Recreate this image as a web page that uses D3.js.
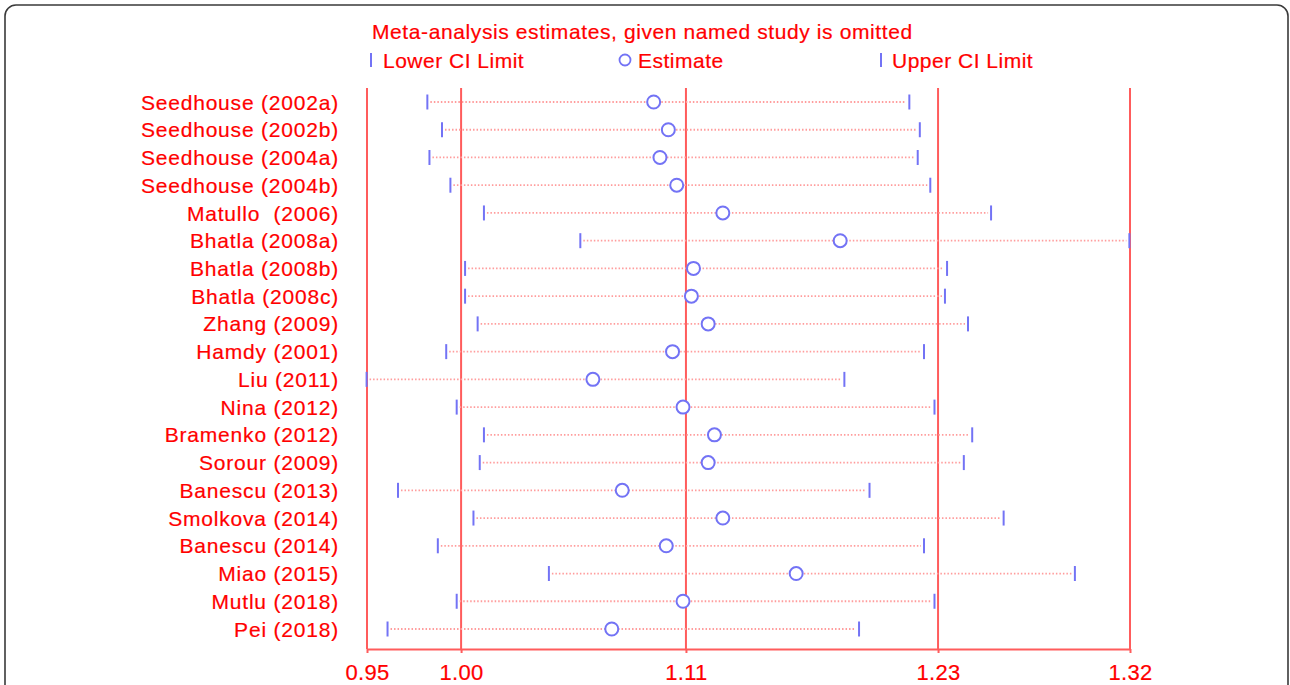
<!DOCTYPE html>
<html>
<head>
<meta charset="utf-8">
<script src="https://cdn.jsdelivr.net/npm/d3@7"></script>
<style>
  html, body { margin: 0; padding: 0; background: #fff; }
  svg { display: block; }
  text { font-family: "Liberation Sans", Arial, Helvetica, sans-serif; }
</style>
</head>
<body>
<svg id="chart" width="1290" height="685"></svg>
<script>
// ---- data ----
const studies = [
  "Seedhouse (2002a)", "Seedhouse (2002b)", "Seedhouse (2004a)", "Seedhouse (2004b)",
  "Matullo  (2006)", "Bhatla (2008a)", "Bhatla (2008b)", "Bhatla (2008c)",
  "Zhang (2009)", "Hamdy (2001)", "Liu (2011)", "Nina (2012)",
  "Bramenko (2012)", "Sorour (2009)", "Banescu (2013)", "Smolkova (2014)",
  "Banescu (2014)", "Miao (2015)", "Mutlu (2018)", "Pei (2018)"
];
const lowerCI = [0.983, 0.990, 0.984, 0.994, 1.010, 1.056, 1.001, 1.001, 1.007, 0.992,
                 0.954, 0.997, 1.010, 1.008, 0.969, 1.005, 0.988, 1.041, 0.997, 0.964];
const estimate = [1.091, 1.098, 1.094, 1.102, 1.124, 1.180, 1.110, 1.109, 1.117, 1.100,
                  1.062, 1.105, 1.120, 1.117, 1.076, 1.124, 1.097, 1.159, 1.105, 1.071];
const upperCI = [1.213, 1.218, 1.217, 1.223, 1.252, 1.318, 1.231, 1.230, 1.241, 1.220,
                 1.182, 1.225, 1.243, 1.239, 1.194, 1.258, 1.220, 1.292, 1.225, 1.189];
const tickValues = [0.9542, 0.9991, 1.1064, 1.2267, 1.3183];
const tickLabels = ["0.95", "1.00", "1.11", "1.23", "1.32"];
const titleText = "Meta-analysis estimates, given named study is omitted";
const legendLabels = ["Lower CI Limit", "Estimate", "Upper CI Limit"];

// ---- styles ----
const RED = "#ff0000";
const LINE_RED = "#ff5c5c";
const BLUE = "#7373f5";
const DOT = "#ff9c9c";

const svg = d3.select("#chart");

// frame
svg.append("rect")
  .attr("x", 5).attr("y", 5).attr("width", 1283).attr("height", 720)
  .attr("rx", 11).attr("ry", 11)
  .attr("fill", "none").attr("stroke", "#3a3a3a").attr("stroke-width", 1.6);

const x = d3.scaleLinear().domain([tickValues[0], tickValues[tickValues.length - 1]]).range([367, 1130]);
const y = d3.scalePoint().domain(studies).range([102, 629]);
const plotTop = 88, axisY = 649;

function redText(sel) {
  return sel.attr("fill", RED).attr("stroke", RED).attr("stroke-width", 0.2);
}

// title
redText(svg.append("text")
  .attr("x", 372).attr("y", 39)
  .attr("font-size", 21).attr("letter-spacing", 0.6)
  .text(titleText));

// legend
const legY = 60;
const legend = svg.append("g");
legend.append("line").attr("x1", 371).attr("x2", 371).attr("y1", legY - 7).attr("y2", legY + 7)
  .attr("stroke", BLUE).attr("stroke-width", 2);
legend.append("circle").attr("cx", 625).attr("cy", legY).attr("r", 5.5)
  .attr("fill", "none").attr("stroke", BLUE).attr("stroke-width", 1.8);
legend.append("line").attr("x1", 881).attr("x2", 881).attr("y1", legY - 7).attr("y2", legY + 7)
  .attr("stroke", BLUE).attr("stroke-width", 2);
[383, 638, 892].forEach((lx, i) => {
  redText(legend.append("text").attr("x", lx).attr("y", legY + 7.5)
    .attr("font-size", 21).attr("letter-spacing", 0.5)
    .text(legendLabels[i]));
});

// vertical reference lines at tick values
svg.append("g").selectAll("line").data(tickValues).join("line")
  .attr("x1", d => x(d)).attr("x2", d => x(d))
  .attr("y1", plotTop).attr("y2", axisY)
  .attr("stroke", LINE_RED).attr("stroke-width", 2);

// axis
const axis = d3.axisBottom(x)
  .tickValues(tickValues)
  .tickFormat((d, i) => tickLabels[i])
  .tickSizeInner(4).tickSizeOuter(0).tickPadding(11);
const gAxis = svg.append("g").attr("transform", `translate(0,${axisY})`).call(axis);
gAxis.select(".domain").attr("stroke", LINE_RED).attr("stroke-width", 2);
gAxis.selectAll(".tick line").attr("stroke", LINE_RED).attr("stroke-width", 2);
redText(gAxis.selectAll(".tick text"))
  .attr("font-size", 22).attr("letter-spacing", 0.3)
  .attr("font-family", "'Liberation Sans', Arial, sans-serif");

// rows
const rows = svg.append("g").selectAll("g").data(studies).join("g");

rows.append("line")
  .attr("x1", (d, i) => x(lowerCI[i]) + 3)
  .attr("x2", (d, i) => x(upperCI[i]) - 3)
  .attr("y1", d => y(d)).attr("y2", d => y(d))
  .attr("stroke", DOT).attr("stroke-width", 1.8)
  .attr("stroke-dasharray", "1.5,2");

rows.append("line")
  .attr("x1", (d, i) => x(lowerCI[i])).attr("x2", (d, i) => x(lowerCI[i]))
  .attr("y1", d => y(d) - 7.5).attr("y2", d => y(d) + 7.5)
  .attr("stroke", BLUE).attr("stroke-width", 2);

rows.append("line")
  .attr("x1", (d, i) => x(upperCI[i])).attr("x2", (d, i) => x(upperCI[i]))
  .attr("y1", d => y(d) - 7.5).attr("y2", d => y(d) + 7.5)
  .attr("stroke", BLUE).attr("stroke-width", 2);

rows.append("circle")
  .attr("cx", (d, i) => x(estimate[i])).attr("cy", d => y(d))
  .attr("r", 6.5)
  .attr("fill", "#fff").attr("stroke", BLUE).attr("stroke-width", 2);

// study labels
redText(svg.append("g").selectAll("text").data(studies).join("text")
  .attr("x", 339).attr("y", d => y(d))
  .attr("dy", "0.36em")
  .attr("text-anchor", "end")
  .attr("font-size", 21).attr("letter-spacing", 0.8)
  .style("white-space", "pre")
  .text(d => d));
</script>
</body>
</html>
